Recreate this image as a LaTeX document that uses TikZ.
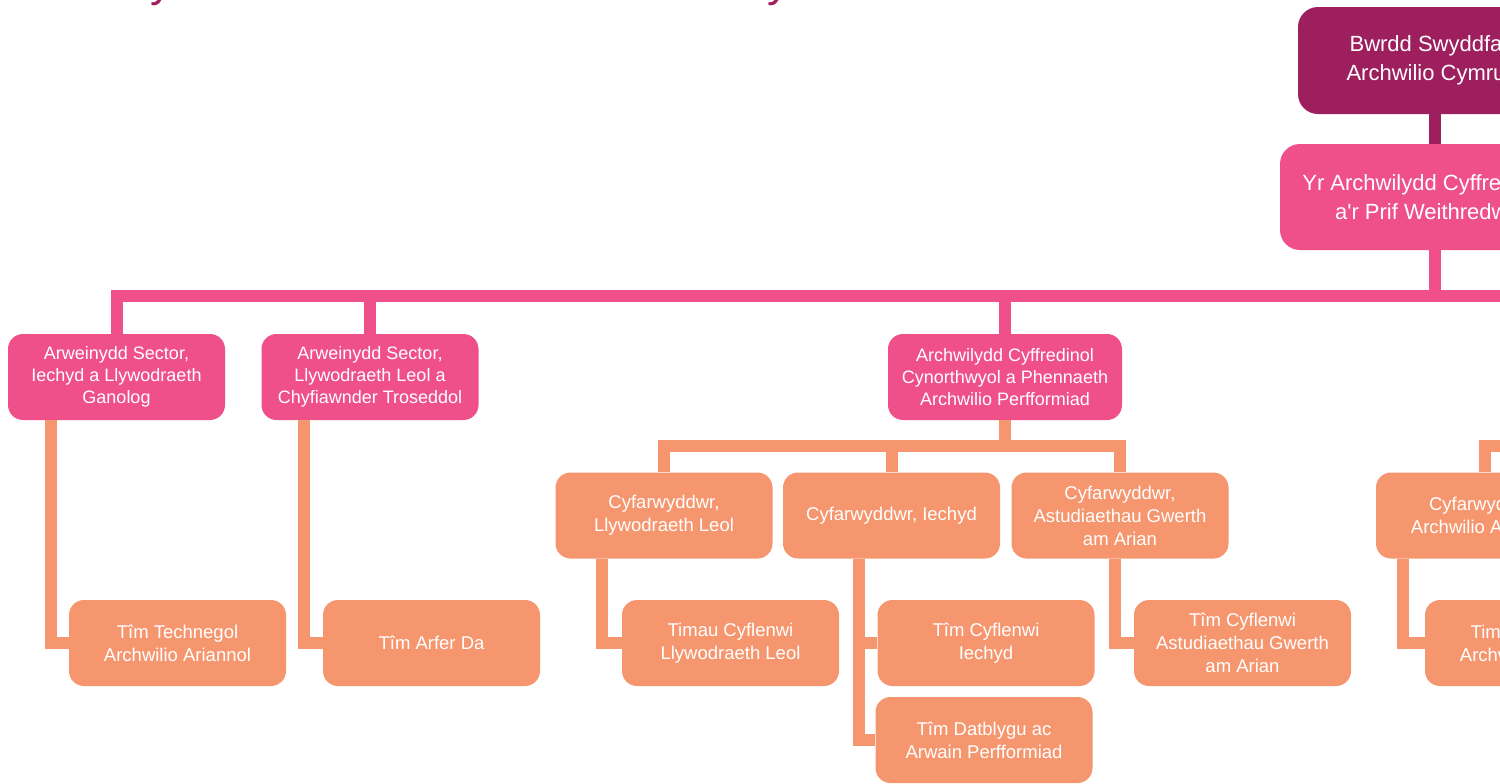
\documentclass[tikz,border=0pt]{standalone}
\usepackage{fontspec}
\setmainfont{Liberation Sans}
\usetikzlibrary{calc}

\definecolor{auditplum}{HTML}{9E1F5E}
\definecolor{auditpink}{HTML}{EF5089}
\definecolor{auditpeach}{HTML}{F6966F}

\tikzset{
	orgbox/.style={rounded corners=7.5pt, align=center, text=white, inner sep=0pt,
		minimum width=108.5pt, minimum height=43pt},
	boardbox/.style={orgbox, rounded corners=10pt, fill=auditplum, minimum width=128pt,
		minimum height=53.5pt, font=\fontsize{11}{14.5}\selectfont},
	chiefbox/.style={orgbox, rounded corners=10pt, fill=auditpink, minimum width=145pt,
		minimum height=53pt, font=\fontsize{11}{14.5}\selectfont},
	leadbox/.style={orgbox, fill=auditpink, font=\fontsize{9}{11}\selectfont},
	teambox/.style={orgbox, fill=auditpeach, font=\fontsize{9.25}{11.5}\selectfont},
	plumwire/.style={draw=auditplum, line width=6pt},
	pinkwire/.style={draw=auditpink, line width=6pt},
	peachwire/.style={draw=auditpeach, line width=6pt},
	titletext/.style={text=auditplum, inner sep=0pt, font=\fontsize{22.3}{26}\selectfont},
}

\begin{document}
\begin{tikzpicture}[x=0.5pt, y=-0.5pt]
	\newcommand\elbow[3]{
		\draw[peachwire] ($(#1.south west)+(#2,0)$) |- (#3.west) ;
	}
	\useasboundingbox (0,0) rectangle (1500,783) ;
	\clip (0,0) rectangle (1500,783) ;

	\node[titletext, anchor=base west] (title) at (61,-4) {Strwythur trefniadaethol Archwilio Cymru} ;

	\node[boardbox] (bwrdd) at (1426,60.5) {Bwrdd Swyddfa\\Archwilio Cymru} ;
	\node[chiefbox] (archwilydd) at (1425,197) {Yr Archwilydd Cyffredinol\\a\textquotesingle r Prif Weithredwr} ;

	\node[leadbox] (arwIechyd) at (116.5,377) {Arweinydd Sector,\\Iechyd a Llywodraeth\\Ganolog} ;
	\node[leadbox] (arwLleol) at (370,377) {Arweinydd Sector,\\Llywodraeth Leol a\\Chyfiawnder Troseddol} ;
	\node[leadbox, minimum width=117pt] (acc) at (1005,377) {Archwilydd Cyffredinol\\Cynorthwyol a Phennaeth\\Archwilio Perfformiad} ;

	\node[teambox] (cyfLleol) at (664,515.5) {Cyfarwyddwr,\\Llywodraeth Leol} ;
	\node[teambox] (cyfIechyd) at (891.5,515.5) {Cyfarwyddwr, Iechyd} ;
	\node[teambox] (cyfGwerth) at (1120,515.5) {Cyfarwyddwr,\\Astudiaethau Gwerth\\am Arian} ;
	\node[teambox] (cyfAriannol) at (1484.5,515.5) {Cyfarwyddwr,\\Archwilio Ariannol} ;

	\node[teambox] (timTechnegol) at (177.5,643) {Tîm Technegol\\Archwilio Ariannol} ;
	\node[teambox] (timArfer) at (431.5,643) {Tîm Arfer Da} ;
	\node[teambox] (timLleol) at (730.5,643) {Timau Cyflenwi\\Llywodraeth Leol} ;
	\node[teambox] (timIechyd) at (986,643) {Tîm Cyflenwi\\Iechyd} ;
	\node[teambox] (timDatblygu) at (984,740) {Tîm Datblygu ac\\Arwain Perfformiad} ;
	\node[teambox] (timGwerth) at (1242.5,643) {Tîm Cyflenwi\\Astudiaethau Gwerth\\am Arian} ;
	\node[teambox] (timAriannol) at (1533.5,643) {Timau Cyflenwi\\Archwilio Ariannol} ;

	\coordinate (pbus) at (1435,296) ;
	\coordinate (pbusR) at (1520,296) ;
	\coordinate (sbus) at (1005,446) ;
	\coordinate (sbusR) at (1520,446) ;

	\draw[plumwire] (bwrdd.south -| pbus) -- (archwilydd.north -| pbus) ;
	\draw[pinkwire] (archwilydd.south -| pbus) -- (pbus) ;
	\draw[pinkwire] (pbus) -- (pbusR) ;
	\foreach \lead in {arwIechyd,arwLleol,acc}
		\draw[pinkwire] (pbus) -| (\lead.north) ;

	\draw[peachwire] (acc.south) -- (sbus) ;
	\foreach \dir in {cyfLleol,cyfIechyd,cyfGwerth}
		\draw[peachwire] (sbus) -| (\dir.north) ;
	\draw[peachwire] (sbusR) -| (cyfAriannol.north) ;

	\elbow{arwIechyd}{43}{timTechnegol}
	\elbow{arwLleol}{43}{timArfer}
	\elbow{cyfLleol}{47}{timLleol}
	\elbow{cyfIechyd}{76}{timIechyd}
	\elbow{cyfIechyd}{76}{timDatblygu}
	\elbow{cyfGwerth}{104}{timGwerth}
	\elbow{cyfAriannol}{27}{timAriannol}
\end{tikzpicture}
\end{document}
